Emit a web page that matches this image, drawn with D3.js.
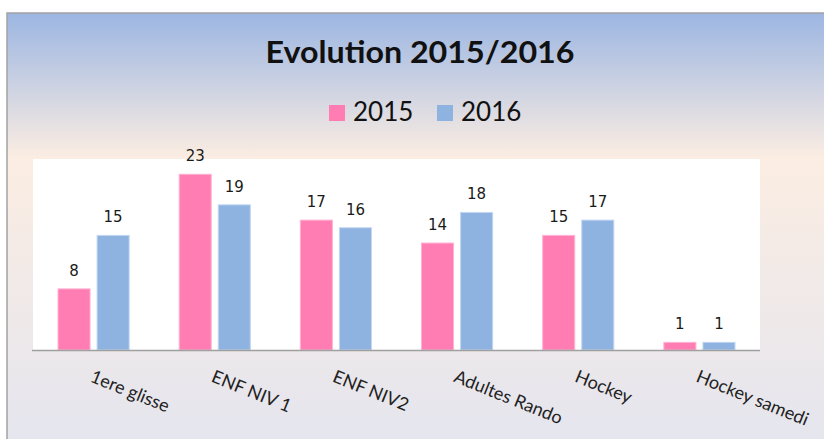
<!DOCTYPE html>
<html>
<head>
<meta charset="utf-8">
<script src="https://cdn.jsdelivr.net/npm/d3@7"></script>
<style>
  body { margin: 0; background: #fff; }
  svg { display: block; }
</style>
</head>
<body>
<script>
// Data
const categories = ["1ere glisse", "ENF NIV 1", "ENF NIV2", "Adultes Rando", "Hockey", "Hockey samedi"];
const years = ["2015", "2016"];
const values2015 = [8, 23, 17, 14, 15, 1];
const values2016 = [15, 19, 16, 18, 17, 1];
const colors = ["#ff7db3", "#8fb3e1"];
const borders = ["#ffb3d2", "#c2d6f1"];

const w = 824;
const h = 439;
const plot = { left: 33, right: 760, top: 159, bottom: 350 };

const rows = categories.map((c, i) => ({ cat: c, vals: [values2015[i], values2016[i]] }));

let svg = d3.select("body")
            .append("svg")
                .attr("width", w)
                .attr("height", h);

// background gradient of the chart area
const defs = svg.append("defs");
const grad = defs.append("linearGradient")
    .attr("id", "bg")
    .attr("x1", 0).attr("y1", 0).attr("x2", 0).attr("y2", 1);
grad.append("stop").attr("offset", "0%").attr("stop-color", "#9cb6e2");
grad.append("stop").attr("offset", "33%").attr("stop-color", "#fbede2");
grad.append("stop").attr("offset", "100%").attr("stop-color", "#e4e5ef");

svg.append("rect")
    .attr("x", 7).attr("y", 13)
    .attr("width", w).attr("height", h)
    .attr("fill", "url(#bg)")
    .attr("stroke", "#a3a3a3")
    .attr("stroke-width", 1.5);

// plot area
svg.append("rect")
    .attr("x", plot.left).attr("y", plot.top)
    .attr("width", plot.right - plot.left)
    .attr("height", plot.bottom - plot.top)
    .attr("fill", "#fff");

// scales
const x = d3.scaleBand()
    .domain(categories)
    .range([plot.left, plot.right]);

const x1 = d3.scaleBand()
    .domain([0, 1])
    .range([0, x.bandwidth()])
    .paddingInner(0.18)
    .paddingOuter(0.64);

const y = d3.scaleLinear()
    .domain([0, 25])
    .range([plot.bottom, plot.top]);

// bars
const groups = svg.selectAll("g.cat")
    .data(rows)
    .enter()
    .append("g")
        .attr("class", "cat")
        .attr("transform", (d) => "translate(" + x(d.cat) + ",0)");

groups.selectAll("rect")
    .data((d) => d.vals)
    .enter()
    .append("rect")
        .attr("x", (d, i) => x1(i))
        .attr("width", x1.bandwidth())
        .attr("y", (d) => y(d))
        .attr("height", (d) => y(0) - y(d))
        .attr("fill", (d, i) => colors[i])
        .attr("stroke", (d, i) => borders[i])
        .attr("stroke-width", 1);

// value labels
groups.selectAll("text.val")
    .data((d) => d.vals)
    .enter()
    .append("text")
        .attr("class", "val")
        .attr("x", (d, i) => x1(i) + x1.bandwidth() / 2)
        .attr("y", (d) => y(d) - 13)
        .attr("text-anchor", "middle")
        .attr("font-family", "DejaVu Sans, Verdana, sans-serif")
        .attr("font-size", 15)
        .attr("fill", "#1a1a1a")
        .text((d) => d);

// x axis
const xAxis = svg.append("g")
    .attr("transform", "translate(0," + plot.bottom + ")")
    .call(d3.axisBottom(x).tickSize(0).tickPadding(0));

xAxis.select(".domain")
    .attr("stroke", "#a0a0a0")
    .attr("stroke-width", 1.5)
    .attr("d", "M" + (plot.left - 1) + ",0.5H" + plot.right);

xAxis.selectAll(".tick text")
    .attr("font-family", "Lato, Carlito, sans-serif")
    .attr("font-size", 18)
    .attr("fill", "#222")
    .attr("text-anchor", "start")
    .attr("dy", "0.8em")
    .attr("y", 0)
    .attr("transform", "translate(1,18) rotate(22)");

// title
svg.append("text")
    .attr("x", 420)
    .attr("y", 63)
    .attr("text-anchor", "middle")
    .attr("font-family", "Lato, sans-serif")
    .attr("font-weight", "bold")
    .attr("font-size", 30)
    .attr("textLength", 309)
    .attr("lengthAdjust", "spacingAndGlyphs")
    .attr("fill", "#111")
    .text("Evolution 2015/2016");

// legend
const legendX = [329, 437];
const legend = svg.selectAll("g.legend")
    .data(years)
    .enter()
    .append("g")
        .attr("class", "legend")
        .attr("transform", (d, i) => "translate(" + legendX[i] + ",0)");

legend.append("rect")
    .attr("x", 0).attr("y", 105)
    .attr("width", 16).attr("height", 16)
    .attr("fill", (d, i) => colors[i]);

legend.append("text")
    .attr("x", 24)
    .attr("y", 121)
    .attr("font-family", "Lato, sans-serif")
    .attr("font-size", 26)
    .attr("fill", "#111")
    .text((d) => d);
</script>
</body>
</html>
